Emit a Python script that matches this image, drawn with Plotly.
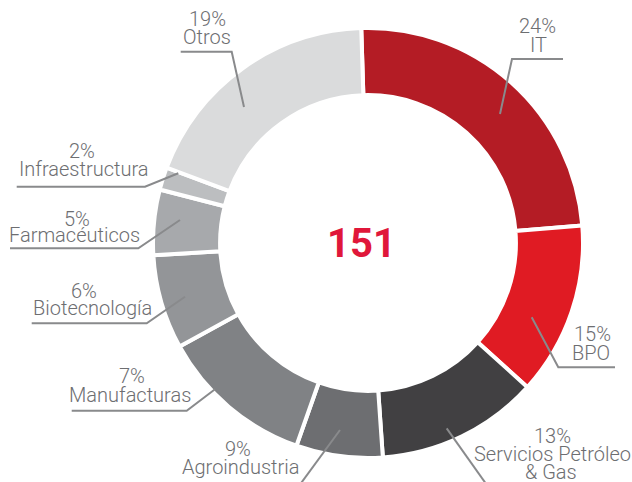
import plotly.graph_objects as go

# ---- data (slice shares as drawn, clockwise from 12 o'clock) ----
sectors = ["IT", "BPO", "Servicios Petróleo & Gas", "Agroindustria", "Manufacturas",
           "Biotecnología", "Farmacéuticos", "Infraestructura", "Otros"]
shares = [24.2, 13.0, 12.2, 6.5, 11.6, 7.1, 4.9, 1.7, 18.8]
pct_labels = ["24%", "15%", "13%", "9%", "7%", "6%", "5%", "2%", "19%"]
name_lines = [["IT"], ["BPO"], ["Servicios Petróleo", "& Gas"], ["Agroindustria"],
              ["Manufacturas"], ["Biotecnología"], ["Farmacéuticos"], ["Infraestructura"], ["Otros"]]
total_label = "151"

colors = ["#b41c25", "#e01b23", "#414042", "#6d6e71", "#808285",
          "#939598", "#a7a9ac", "#bcbec0", "#dadbdc"]

W, H = 632, 482
CX, CY, R = 368, 243, 215


def px(x):
    return x / W


def py(y):
    return 1 - y / H


fig = go.Figure(go.Pie(
    labels=sectors, values=shares, sort=False, direction="clockwise", rotation=-1.8,
    hole=0.688, textinfo="none", hoverinfo="label+percent",
    marker=dict(colors=colors, line=dict(color="white", width=4)),
    domain=dict(x=[px(CX - R), px(CX + R)], y=[py(CY + R), py(CY - R)]),
    showlegend=False,
))

# label layout: (pct center, name line centers) in pixels, leader polyline in pixels
label_pos = [
    ((537, 26), [(538, 44.5)]),
    ((592, 334), [(591, 352.5)]),
    ((552, 436), [(552, 453.5), (551, 471.5)]),
    ((238, 449), [(240, 466.5)]),
    ((132, 376), [(130, 394.5)]),
    ((84, 290.5), [(92, 307.5)]),
    ((77, 219), [(74, 234.5)]),
    ((82, 150.5), [(84, 169)]),
    ((207, 19.5), [(207, 37)]),
]
leaders = [
    [(500, 114), (512, 59), (563, 59)],
    [(531.7, 317.3), (558.3, 367.3), (615, 367.3)],
    [(446.7, 428.3), (490.4, 490)],
    [(340, 430), (296, 490)],
    [(215, 389.3), (186.7, 410.7), (71.7, 410.7)],
    [(185, 296.7), (146.7, 323.3), (31.7, 323.3)],
    [(180, 220), (138.3, 248.3), (10, 248.3)],
    [(178.3, 173.3), (145, 186.7), (16.7, 186.7)],
    [(244, 107), (231.7, 51.7), (180.7, 51.7)],
]

txt_font = dict(family="Roboto, Liberation Sans, sans-serif", size=20, color="#6d6e71", weight=300)
annotations = []
for pct, (pc, nl), names in zip(pct_labels, label_pos, name_lines):
    annotations.append(dict(text=pct, x=px(pc[0]), y=py(pc[1]), xref="paper", yref="paper",
                            xanchor="center", yanchor="middle", showarrow=False, font=txt_font))
    for name, (nx, ny) in zip(names, nl):
        annotations.append(dict(text=name, x=px(nx), y=py(ny), xref="paper", yref="paper",
                                xanchor="center", yanchor="middle", showarrow=False, font=txt_font))

annotations.append(dict(text=total_label, x=px(361), y=py(243.7), xref="paper", yref="paper",
                        xanchor="center", yanchor="middle", showarrow=False,
                        font=dict(family="Roboto, Liberation Sans, sans-serif", size=40,
                                  color="#e0173a", weight=700)))

shapes = []
for pts in leaders:
    path = "M " + " L ".join(f"{px(x):.5f},{py(y):.5f}" for x, y in pts)
    shapes.append(dict(type="path", path=path, xref="paper", yref="paper",
                       line=dict(color="#898a8c", width=2)))

fig.update_layout(
    width=W, height=H, margin=dict(l=0, r=0, t=0, b=0),
    paper_bgcolor="white", plot_bgcolor="white",
    annotations=annotations, shapes=shapes,
)

fig.write_html("out.html", config={"displayModeBar": False})

# remove the default page margin so the figure sits at the window's top-left corner
with open("out.html", encoding="utf-8") as f:
    html = f.read()
html = html.replace("<head>", "<head><style>html,body{margin:0;padding:0;overflow:hidden;}</style>", 1)
with open("out.html", "w", encoding="utf-8") as f:
    f.write(html)
